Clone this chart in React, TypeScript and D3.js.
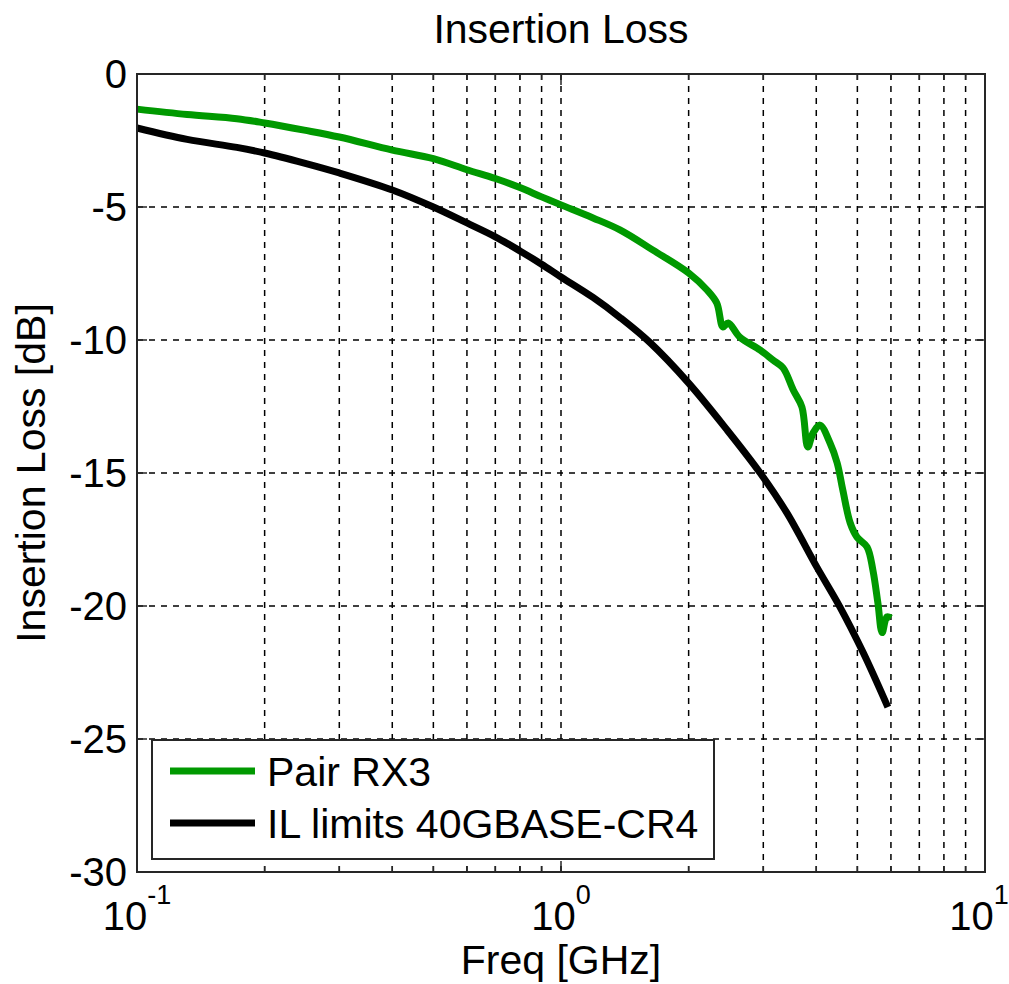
import React from 'react';
import * as d3 from 'd3';

// measured pair (green)
const rxFreq = [0.1, 0.1313, 0.172, 0.2, 0.248, 0.3, 0.4, 0.5, 0.6, 0.7, 0.8, 0.9, 1.0, 1.19, 1.377, 1.648, 2.0, 2.21, 2.33, 2.41, 2.48, 2.64, 2.95, 3.16, 3.34, 3.53, 3.7, 3.82, 3.93, 4.08, 4.31, 4.48, 4.62, 4.81, 4.99, 5.27, 5.44, 5.59, 5.72, 5.87, 6.0];
const rxLoss = [-1.32, -1.52, -1.68, -1.84, -2.11, -2.37, -2.86, -3.18, -3.6, -3.93, -4.27, -4.62, -4.92, -5.41, -5.86, -6.62, -7.48, -8.12, -8.61, -9.51, -9.36, -9.89, -10.38, -10.75, -11.05, -11.88, -12.52, -14.02, -13.5, -13.2, -13.87, -14.62, -15.64, -16.88, -17.41, -17.78, -18.65, -19.89, -21.0, -20.41, -20.45];

// IL limit line (black)
const limFreq = [0.1, 0.1313, 0.172, 0.2, 0.248, 0.3, 0.4, 0.5, 0.6, 0.7, 0.8, 0.9, 1.0, 1.19, 1.377, 1.622, 2.0, 2.464, 2.95, 3.41, 4.01, 4.55, 5.16, 5.9];
const limLoss = [-2.03, -2.46, -2.76, -2.97, -3.35, -3.72, -4.36, -5.0, -5.6, -6.12, -6.65, -7.15, -7.63, -8.4, -9.15, -10.1, -11.62, -13.38, -15.0, -16.5, -18.53, -20.04, -21.75, -23.8];

const yTicks = [0, -5, -10, -15, -20, -25, -30];
const xMajor = [0.1, 1, 10];
const xMajorExp = ['-1', '0', '1'];
const xMinor = [0.2, 0.3, 0.4, 0.5, 0.6, 0.7, 0.8, 0.9, 2, 3, 4, 5, 6, 7, 8, 9];

const legendNames = ['Pair RX3', 'IL limits 40GBASE-CR4'];
const legendColors = ['#009900', '#000000'];

const W = 1009;
const H = 984;
const L = 137, R = 985, T = 74, B = 872;
const FONT = '"Liberation Sans", Arial, sans-serif';

export default function App() {
  const x = d3.scaleLog().domain([0.1, 10]).range([L, R]);
  const y = d3.scaleLinear().domain([-30, 0]).range([B, T]);

  const line = d3.line<[number, number]>()
    .x(d => x(d[0]))
    .y(d => y(d[1]))
    .curve(d3.curveCatmullRom.alpha(0.5));

  const rxPath = line(rxFreq.map((f, i) => [f, rxLoss[i]]))!;
  const limPath = line(limFreq.map((f, i) => [f, limLoss[i]]))!;

  const allX = [...xMajor, ...xMinor];

  return (
    <svg width={W} height={H} style={{ position: 'absolute', left: 0, top: 0, background: '#fff' }}
      fontFamily={FONT}>
      <rect x={0} y={0} width={W} height={H} fill="#fff" />

      {/* grid */}
      <g stroke="#000" strokeWidth={1.5} strokeDasharray="6,6">
        {allX.filter(v => v > 0.1 && v < 10).map(v => (
          <line key={'gx' + v} x1={x(v)} x2={x(v)} y1={T} y2={B} />
        ))}
        {yTicks.filter(v => v > -30 && v < 0).map(v => (
          <line key={'gy' + v} x1={L} x2={R} y1={y(v)} y2={y(v)} />
        ))}
      </g>

      {/* ticks */}
      <g stroke="#262626" strokeWidth={1.5}>
        {xMinor.map(v => (
          <g key={'mt' + v}>
            <line x1={x(v)} x2={x(v)} y1={B} y2={B - 6} />
            <line x1={x(v)} x2={x(v)} y1={T} y2={T + 6} />
          </g>
        ))}
        {xMajor.map(v => (
          <g key={'Mt' + v}>
            <line x1={x(v)} x2={x(v)} y1={B} y2={B - 11} />
            <line x1={x(v)} x2={x(v)} y1={T} y2={T + 11} />
          </g>
        ))}
        {yTicks.map(v => (
          <g key={'yt' + v}>
            <line x1={L} x2={L + 10} y1={y(v)} y2={y(v)} />
            <line x1={R} x2={R - 10} y1={y(v)} y2={y(v)} />
          </g>
        ))}
      </g>

      {/* data */}
      <path d={limPath} fill="none" stroke={legendColors[1]} strokeWidth={7} />
      <path d={rxPath} fill="none" stroke={legendColors[0]} strokeWidth={7} />

      {/* legend */}
      <rect x={152} y={740} width={562} height={119} fill="#fff" stroke="#262626" strokeWidth={2} />
      {legendNames.map((n, i) => (
        <g key={n}>
          <line x1={170} x2={255} y1={771 + i * 52} y2={771 + i * 52} stroke={legendColors[i]} strokeWidth={7} />
          <text x={267} y={771 + i * 52} dy="0.36em" fontSize={41} fill="#000">{n}</text>
        </g>
      ))}

      {/* box */}
      <rect x={L} y={T} width={R - L} height={B - T} fill="none" stroke="#262626" strokeWidth={2} />

      {/* y tick labels */}
      {yTicks.map(v => (
        <text key={'yl' + v} x={127} y={y(v)} dy="0.36em" textAnchor="end" fontSize={40} fill="#000">
          {v === 0 ? '0' : '-' + Math.abs(v)}
        </text>
      ))}

      {/* x tick labels */}
      {xMajor.map((v, i) => (
        <text key={'xl' + v} x={v === 10 ? x(v) - 6 : x(v)} y={930} textAnchor="middle" fontSize={40} fill="#000">
          10<tspan fontSize={27} dy={-26}>{xMajorExp[i]}</tspan>
        </text>
      ))}

      {/* titles */}
      <text x={(L + R) / 2} y={43} textAnchor="middle" fontSize={41} fill="#000">Insertion Loss</text>
      <text x={(L + R) / 2} y={974} textAnchor="middle" fontSize={41} fill="#000">Freq [GHz]</text>
      <text transform={`translate(45, ${(T + B) / 2}) rotate(-90)`} textAnchor="middle" fontSize={41} fill="#000">
        Insertion Loss [dB]
      </text>
    </svg>
  );
}
